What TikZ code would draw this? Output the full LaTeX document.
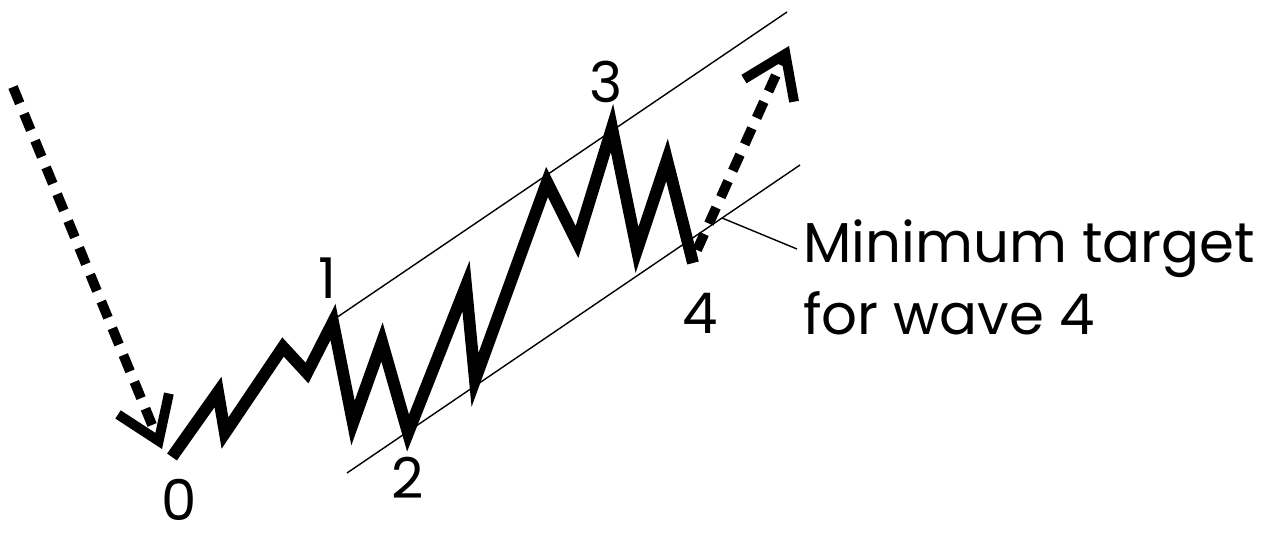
\documentclass[tikz,border=0pt]{standalone}
\usepackage{fontspec}
\setmainfont{Poppins}
\usetikzlibrary{arrows.meta}

\begin{document}
\begin{tikzpicture}[x=.02cm,y=-.02cm,font=\fontsize{32}{41}\selectfont,
    wave/.style={line width=6.8pt,line join=miter,miter limit=25},
    trend/.style={line width=5.6pt,dash pattern=on 10pt off 6.5pt,
      -{Straight Barb[length=.8cm,width=1.1cm,line width=5.6pt]}},
    chan/.style={line width=.8pt},
    num/.style={inner sep=0pt}]
    \useasboundingbox (0,0) rectangle (1270,533);
    % wave points
    \coordinate (w0) at (172,457);
    \coordinate (wa) at (218,392);
    \coordinate (wb) at (225,433);
    \coordinate (wc) at (283,347);
    \coordinate (wd) at (307,373);
    \coordinate (w1) at (333,322);
    \coordinate (we) at (353,423);
    \coordinate (wf) at (382,342);
    \coordinate (w2) at (408,433);
    \coordinate (wg) at (466,286);
    \coordinate (wh) at (475,380);
    \coordinate (wi) at (547,182);
    \coordinate (wj) at (577,242);
    \coordinate (w3) at (612,128);
    \coordinate (wk) at (637,250);
    \coordinate (wl) at (667,160);
    \coordinate (w4) at (693,263);
    \draw[wave] (w0)--(wa)--(wb)--(wc)--(wd)--(w1)--(we)--(wf)--(w2)
      --(wg)--(wh)--(wi)--(wj)--(w3)--(wk)--(wl)--(w4);
    % channel
    \coordinate (ua) at (333,320);
    \coordinate (ub) at (787,12);
    \coordinate (la) at (347,473);
    \coordinate (lb) at (800,165);
    \draw[chan] (ua)--(ub);
    \draw[chan] (la)--(lb);
    % trend arrows
    \coordinate (in0) at (13,87);
    \coordinate (in1) at (162,449);
    \draw[trend] (in0)--(in1);
    \coordinate (out0) at (697,250);
    \coordinate (out1) at (789,46);
    \draw[trend] (out0)--(out1);
    % labels
    \node[num] (l0) at (179,500) {0};
    \node[num] (l1) at (327,278) {1};
    \node[num] (l2) at (408,478) {2};
    \node[num] (l3) at (606,82) {3};
    \node[num] (l4) at (700,313) {4};
    \node[anchor=base west,align=left,inner sep=0pt] (tgt) at (803,335)
      {Minimum target\\for wave 4};
    \coordinate (tp) at (722,218);
    \coordinate (tq) at (797,249);
    \draw[chan] (tp)--(tq);
  \end{tikzpicture}
\end{document}
